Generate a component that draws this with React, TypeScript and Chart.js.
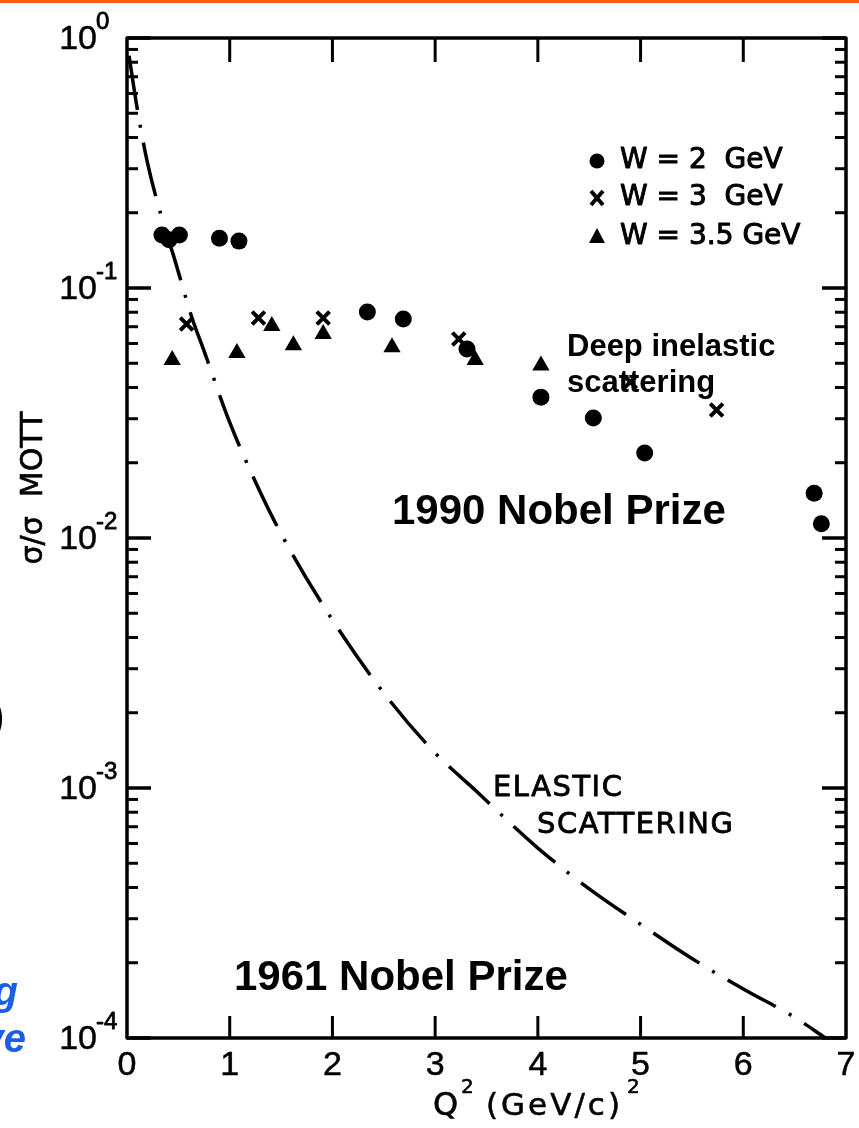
import React, { useEffect, useRef } from 'react';
import { Chart, registerables } from 'chart.js';

Chart.register(...registerables);

// ---- data ----
const elasticQ2 = [0.02, 0.1, 0.2, 0.35, 0.45, 0.63, 0.75, 1.0, 1.25, 1.5, 2.0, 2.5, 3.0, 3.41, 3.73, 4.0, 4.5, 5.0, 5.5, 6.0, 6.5, 6.8];
const elasticRatio = [0.85, 0.52, 0.316, 0.184, 0.136, 0.0766, 0.056, 0.029, 0.0168, 0.0104, 0.0047, 0.0024, 0.00138, 0.000964, 0.000724, 0.000575, 0.000395, 0.000285, 0.000208, 0.000157, 0.000121, 0.0001];

const w2Q2 = [0.34, 0.41, 0.51, 0.90, 1.09, 2.34, 2.69, 3.31, 4.03, 4.54, 5.04, 6.69, 6.76];
const w2Ratio = [0.163, 0.156, 0.163, 0.158, 0.154, 0.0802, 0.0752, 0.057, 0.0366, 0.0302, 0.0219, 0.0151, 0.0114];

const w3Q2 = [0.58, 1.28, 1.91, 3.23, 4.90, 5.74];
const w3Ratio = [0.0718, 0.0759, 0.0759, 0.0625, 0.0421, 0.0325];

const w35Q2 = [0.44, 1.07, 1.41, 1.62, 1.91, 2.58, 3.39, 4.03];
const w35Ratio = [0.0515, 0.055, 0.0705, 0.059, 0.0655, 0.058, 0.0515, 0.049];

const xTickLabels = ['0', '1', '2', '3', '4', '5', '6', '7'];
const yDecadeExponents = [0, -1, -2, -3, -4];
const legendLabels = ['W = 2  GeV', 'W = 3  GeV', 'W = 3.5 GeV'];

const toPts = (xs: number[], ys: number[]) => xs.map((x, i) => ({ x, y: ys[i] }));

const LEROY = '"DejaVu Sans", "Liberation Sans", sans-serif';
const ARIAL = '"Liberation Sans", Arial, sans-serif';

export default function App() {
  const ref = useRef<HTMLCanvasElement>(null);

  useEffect(() => {
    const canvas = ref.current!;
    const decorPlugin = {
      id: 'decor',
      beforeDraw(chart: any) {
        const c = chart.ctx;
        c.save();
        c.fillStyle = '#ffffff';
        c.fillRect(0, 0, chart.width, chart.height);
        c.fillStyle = '#ff5a14';
        c.fillRect(0, 0, chart.width, 3);
        c.restore();
      },
      afterDraw(chart: any) {
        const c = chart.ctx;
        const xs = chart.scales.x;
        const ys = chart.scales.y;
        const { left, right, top, bottom } = chart.chartArea;
        c.save();
        c.strokeStyle = '#000';
        c.fillStyle = '#000';
        c.lineCap = 'butt';
        c.lineJoin = 'round';
        const txt = (t: string, x: number, y: number, w = 0.6) => {
          c.fillText(t, x, y);
          if (w > 0) {
            const lw = c.lineWidth;
            c.lineWidth = w;
            c.strokeText(t, x, y);
            c.lineWidth = lw;
          }
        };
        // frame
        c.lineWidth = 3.5;
        c.strokeRect(left, top, right - left, bottom - top);
        const line = (x1: number, y1: number, x2: number, y2: number) => {
          c.beginPath();
          c.moveTo(x1, y1);
          c.lineTo(x2, y2);
          c.stroke();
        };
        // x ticks on bottom and top
        xTickLabels.forEach((lab, i) => {
          const v = Number(lab);
          const px = xs.getPixelForValue(v);
          c.lineWidth = 3;
          if (i > 0 && i < xTickLabels.length - 1) {
            line(px, bottom, px, bottom - 22);
            line(px, top, px, top + 24);
          }
          c.font = `34px ${ARIAL}`;
          c.textAlign = 'center';
          c.textBaseline = 'middle';
          txt(lab, px, bottom + 28, 0.5);
        });
        // y ticks (log) on left and right
        yDecadeExponents.forEach((e) => {
          for (let m = 1; m <= 9; m++) {
            const v = m * Math.pow(10, e);
            if (v > 1.0000001 || v < 0.99999e-4) continue;
            const py = ys.getPixelForValue(v);
            const len = m === 1 ? 24 : 11;
            c.lineWidth = m === 1 ? 3.5 : 3;
            line(left, py, left + len, py);
            line(right, py, right - len, py);
          }
          const py = ys.getPixelForValue(Math.pow(10, e));
          c.font = `34px ${ARIAL}`;
          c.textAlign = 'right';
          c.textBaseline = 'middle';
          txt('10', left - 30, py + 2, 0.5);
          c.font = `24px ${ARIAL}`;
          c.textAlign = 'left';
          c.textBaseline = 'alphabetic';
          txt(String(e), left - 31, py - 9, 0.8);
        });
        // axis titles
        c.font = `30px ${LEROY}`;
        c.textAlign = 'center';
        c.textBaseline = 'middle';
        c.save();
        c.translate(34, 488);
        c.rotate(-Math.PI / 2);
        txt('σ/σ  MOTT', 0, 0, 0.6);
        c.restore();
        c.textAlign = 'left';
        c.textBaseline = 'alphabetic';
        c.font = `32px ${LEROY}`;
        txt('Q', 433, 1115);
        c.font = `20px ${LEROY}`;
        txt('2', 461, 1093);
        c.font = `31px ${LEROY}`;
        (c as any).letterSpacing = '3px';
        txt('(GeV/c)', 486, 1115);
        (c as any).letterSpacing = '0px';
        c.font = `20px ${LEROY}`;
        txt('2', 627, 1093);

        // legend
        const lx = 597;
        const lys = [161, 198, 237];
        c.beginPath();
        c.arc(lx, lys[0], 7.5, 0, Math.PI * 2);
        c.fill();
        c.lineWidth = 4;
        line(lx - 6, lys[1] - 7, lx + 6, lys[1] + 7);
        line(lx + 6, lys[1] - 7, lx - 6, lys[1] + 7);
        c.beginPath();
        c.moveTo(lx, lys[2] - 9);
        c.lineTo(lx + 8, lys[2] + 6);
        c.lineTo(lx - 8, lys[2] + 6);
        c.closePath();
        c.fill();
        c.font = `28px ${LEROY}`;
        c.textBaseline = 'middle';
        legendLabels.forEach((t, i) => txt(t, 620, lys[i], 1));

        // elastic label
        c.textBaseline = 'alphabetic';
        c.font = `29px ${LEROY}`;
        (c as any).letterSpacing = '1.5px';
        txt('ELASTIC', 493, 796, 0.8);
        txt('SCATTERING', 537, 833, 0.8);
        (c as any).letterSpacing = '0px';

        // slide overlay texts
        c.font = `bold 31px ${ARIAL}`;
        c.fillText('Deep inelastic', 567, 356);
        c.fillText('scattering', 567, 392);
        c.font = `bold 42px ${ARIAL}`;
        c.fillText('1990 Nobel Prize', 392, 524);
        c.fillText('1961 Nobel Prize', 234, 990);

        // cropped slide text on the far left
        c.font = `bold 40px ${ARIAL}`;
        c.textAlign = 'right';
        c.fillText(')', 4, 730);
        c.fillStyle = '#1a5fe6';
        c.font = `italic bold 40px ${ARIAL}`;
        c.fillText('g', 18, 1005);
        c.fillText('ve', 26, 1052);
        c.restore();
      },
    };

    const chart = new Chart(canvas, {
      type: 'scatter',
      data: {
        datasets: [
          {
            type: 'line',
            label: 'Elastic scattering',
            data: toPts(elasticQ2, elasticRatio),
            borderColor: '#000',
            borderWidth: 3.5,
            borderDash: [55, 15, 3, 15],
            pointRadius: 0,
            showLine: true,
            fill: false,
            cubicInterpolationMode: 'monotone',
          } as any,
          {
            label: 'W = 2 GeV',
            data: toPts(w2Q2, w2Ratio),
            pointStyle: 'circle',
            pointRadius: 8.5,
            backgroundColor: '#000',
            borderColor: '#000',
            borderWidth: 0,
          },
          {
            label: 'W = 3 GeV',
            data: toPts(w3Q2, w3Ratio),
            pointStyle: 'crossRot',
            pointRadius: 9,
            borderColor: '#000',
            borderWidth: 4,
          },
          {
            label: 'W = 3.5 GeV',
            data: toPts(w35Q2, w35Ratio),
            pointStyle: 'triangle',
            pointRadius: 10,
            backgroundColor: '#000',
            borderColor: '#000',
            borderWidth: 0,
          },
        ],
      },
      options: {
        responsive: false,
        animation: false,
        devicePixelRatio: 1,
        layout: { padding: { left: 127, right: 13, top: 38, bottom: 90 } },
        plugins: { legend: { display: false }, tooltip: { enabled: false } },
        scales: {
          x: { type: 'linear', min: 0, max: 7, display: false },
          y: { type: 'logarithmic', min: 1e-4, max: 1, display: false },
        },
      },
      plugins: [decorPlugin],
    });
    return () => chart.destroy();
  }, []);

  return (
    <div style={{ position: 'absolute', left: 0, top: 0, width: 859, height: 1128, background: '#fff' }}>
      <canvas ref={ref} width={859} height={1128} style={{ display: 'block', width: 859, height: 1128 }} />
    </div>
  );
}
